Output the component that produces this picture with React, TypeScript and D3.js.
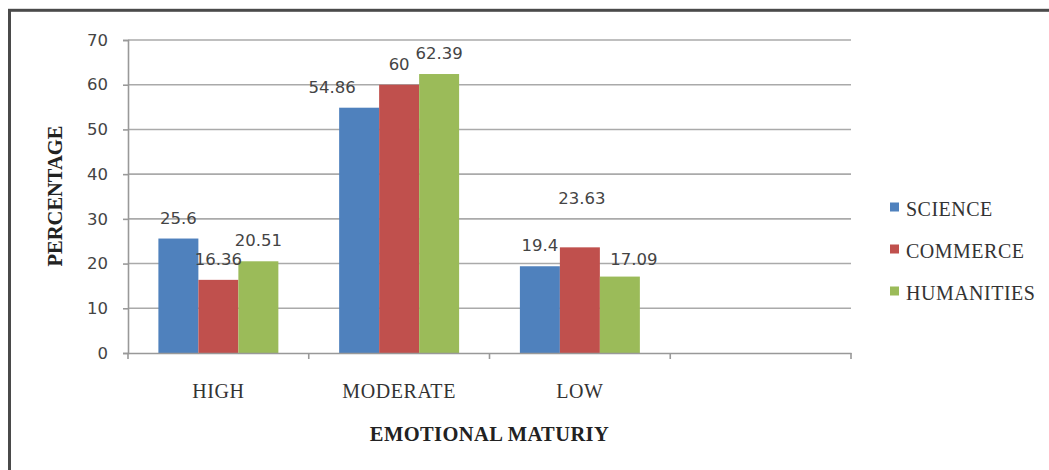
import * as d3 from "d3";
import React from "react";

const categories = ["HIGH", "MODERATE", "LOW", ""];
const seriesNames = ["SCIENCE", "COMMERCE", "HUMANITIES"];
const science = [25.6, 54.86, 19.4];
const commerce = [16.36, 60, 23.63];
const humanities = [20.51, 62.39, 17.09];
const yTicks = [0, 10, 20, 30, 40, 50, 60, 70];
const colors = ["#4F81BD", "#C0504D", "#9BBB59"];
// label nudges (dx, dy) per series / category, the original has a few oddly placed labels
const labelDx = [
  [0, -27, 0],
  [0, 0, 2],
  [0, 0, 14],
];
const labelDy = [
  [0, 0, 0],
  [0, 0, -28],
  [0, 0, 3],
];

export default function App() {
  const svgRef = React.useRef(null);
  const width = 1049;
  const height = 470;
  const margin = { top: 40, right: 198, bottom: 117, left: 128 };

  React.useEffect(() => {
    const svg = d3.select(svgRef.current);
    svg.selectAll("*").remove();

    const serif = "'Liberation Serif', 'Times New Roman', serif";
    const sans = "'DejaVu Sans', Verdana, sans-serif";

    // frame
    svg
      .append("rect")
      .attr("x", 9.5)
      .attr("y", 10.3)
      .attr("width", 1100)
      .attr("height", 500)
      .attr("fill", "white")
      .attr("stroke", "#4a4a4a")
      .attr("stroke-width", 3);

    const x0 = d3
      .scaleBand()
      .domain(categories.map((c, i) => String(i)))
      .range([margin.left, width - margin.right])
      .padding(0);

    const x1 = d3
      .scaleBand()
      .domain(seriesNames)
      .range([0, x0.bandwidth()])
      .paddingInner(0)
      .paddingOuter(0.76);

    const y = d3
      .scaleLinear()
      .domain([0, 70])
      .range([height - margin.bottom, margin.top]);

    // gridlines
    svg
      .append("g")
      .selectAll("line")
      .data(yTicks.filter((t) => t > 0))
      .enter()
      .append("line")
      .attr("x1", margin.left)
      .attr("x2", width - margin.right)
      .attr("y1", (d) => y(d))
      .attr("y2", (d) => y(d))
      .attr("stroke", "#aaaaaa")
      .attr("stroke-width", 1.6);

    // bars
    const values = [science, commerce, humanities];
    seriesNames.forEach((s, si) => {
      svg
        .append("g")
        .selectAll("rect")
        .data(values[si])
        .enter()
        .append("rect")
        .attr("x", (d, i) => (x0(String(i)) ?? 0) + (x1(s) ?? 0))
        .attr("y", (d) => y(d))
        .attr("width", x1.bandwidth())
        .attr("height", (d) => y(0) - y(d))
        .attr("fill", colors[si]);
    });

    // y axis
    const yAxis = svg
      .append("g")
      .attr("transform", `translate(${margin.left},0)`)
      .call(d3.axisLeft(y).tickValues(yTicks).tickSize(5).tickPadding(15));
    yAxis.select(".domain").attr("stroke", "#999").attr("stroke-width", 1.6);
    yAxis.selectAll(".tick line").attr("stroke", "#999").attr("stroke-width", 1.6);
    yAxis
      .selectAll(".tick text")
      .attr("fill", "#444")
      .attr("font-family", sans)
      .attr("font-size", 16.5);

    // x axis
    const xAxis = svg
      .append("g")
      .attr("transform", `translate(0,${y(0)})`)
      .call(
        d3
          .axisBottom(x0)
          .tickValues(categories.map((c, i) => String(i)))
          .tickSize(0)
          .tickFormat((d) => categories[+d])
          .tickPadding(31)
      );
    xAxis.select(".domain").attr("stroke", "#999").attr("stroke-width", 1.6);
    xAxis
      .selectAll(".tick text")
      .attr("fill", "#333")
      .attr("font-family", serif)
      .attr("font-size", 20)
      .attr("letter-spacing", 0.6);
    // category separator ticks
    svg
      .append("g")
      .selectAll("line")
      .data(categories.map((c, i) => String(i)).concat(["end"]))
      .enter()
      .append("line")
      .attr("x1", (d) => (d === "end" ? width - margin.right : x0(d) ?? 0))
      .attr("x2", (d) => (d === "end" ? width - margin.right : x0(d) ?? 0))
      .attr("y1", y(0))
      .attr("y2", y(0) + 6)
      .attr("stroke", "#999")
      .attr("stroke-width", 1.6);

    // data labels
    seriesNames.forEach((s, si) => {
      svg
        .append("g")
        .selectAll("text")
        .data(values[si])
        .enter()
        .append("text")
        .attr(
          "x",
          (d, i) =>
            (x0(String(i)) ?? 0) + (x1(s) ?? 0) + x1.bandwidth() / 2 + labelDx[si][i]
        )
        .attr("y", (d, i) => y(d) - 15 + labelDy[si][i])
        .attr("text-anchor", "middle")
        .attr("font-family", sans)
        .attr("font-size", 16.5)
        .attr("fill", "#444")
        .text((d) => String(d));
    });

    // axis titles
    svg
      .append("text")
      .attr("x", (margin.left + width - margin.right) / 2)
      .attr("y", 441)
      .attr("text-anchor", "middle")
      .attr("font-family", serif)
      .attr("font-weight", "bold")
      .attr("font-size", 20.5)
      .attr("letter-spacing", 0.4)
      .attr("fill", "#222")
      .text("EMOTIONAL MATURIY");

    svg
      .append("text")
      .attr("transform", "rotate(-90)")
      .attr("x", -196)
      .attr("y", 62)
      .attr("text-anchor", "middle")
      .attr("font-family", serif)
      .attr("font-weight", "bold")
      .attr("font-size", 20.5)
      .attr("fill", "#222")
      .text("PERCENTAGE");

    // legend
    const legend = svg
      .append("g")
      .selectAll("g")
      .data(seriesNames)
      .enter()
      .append("g")
      .attr("transform", (d, i) => `translate(890,${207 + i * 42})`);
    legend
      .append("rect")
      .attr("x", 0)
      .attr("y", -4.5)
      .attr("width", 9)
      .attr("height", 9)
      .attr("fill", (d, i) => colors[i]);
    legend
      .append("text")
      .attr("x", 16)
      .attr("y", 9)
      .attr("font-family", serif)
      .attr("font-size", 20)
      .attr("letter-spacing", 0.5)
      .attr("fill", "#333")
      .text((d) => d);
  }, []);

  return (
    <svg
      ref={svgRef}
      width={width}
      height={height}
      viewBox={`0 0 ${width} ${height}`}
      style={{ position: "absolute", left: 0, top: 0, background: "white" }}
    ></svg>
  );
}
